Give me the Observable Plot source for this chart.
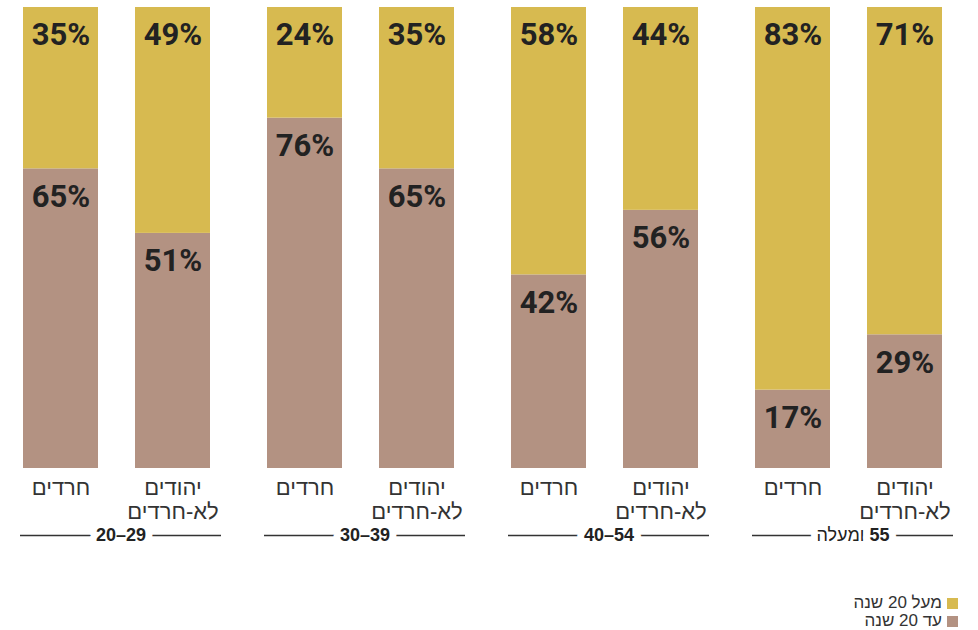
<!DOCTYPE html>
<html>
<head>
<meta charset="utf-8">
<script src="https://cdn.jsdelivr.net/npm/d3@7"></script>
<script src="https://cdn.jsdelivr.net/npm/@observablehq/plot@0.6"></script>
<style>
  body { margin: 0; background: #fff; font-family: "Liberation Sans", "DejaVu Sans", sans-serif; }
  #legend { display: flex; flex-direction: column; align-items: flex-end; padding: 14px 20px 0 0; }
  .row { display: flex; flex-direction: row-reverse; align-items: center; gap: 5px; height: 18px; font-size: 17px; color: #333; }
  .sw { width: 11px; height: 11px; }
</style>
</head>
<body>
<div id="chart"></div>
<div id="legend"></div>
<script>
const groups = ["20–29", "30–39", "40–54", "55 ומעלה"];
const sectors = ["חרדים", "יהודים\nלא-חרדים"];
const series = ["עד 20 שנה", "מעל 20 שנה"];
const upTo20 = [65, 51, 76, 65, 42, 56, 17, 29];
const over20 = [35, 49, 24, 35, 58, 44, 83, 71];
const colors = ["#B39282", "#D7BA50"];

const cells = [];
const data = [];
groups.forEach((g, i) => {
  sectors.forEach((s, j) => {
    const k = i * 2 + j;
    cells.push({group: g, sector: s});
    data.push({group: g, sector: s, series: series[0], value: upTo20[k]});
    data.push({group: g, sector: s, series: series[1], value: over20[k]});
  });
});

const chart = Plot.plot({
  width: 978,
  height: 580,
  marginLeft: 22,
  marginRight: 33,
  marginTop: 7,
  marginBottom: 112,
  style: {fontFamily: "Liberation Sans, DejaVu Sans, sans-serif", background: "#fff"},
  fx: {domain: groups, paddingInner: 0.2275, paddingOuter: 0, axis: null},
  x: {domain: sectors, paddingInner: 0.3274, paddingOuter: 0, axis: null},
  y: {domain: [0, 100], axis: null},
  color: {domain: series, range: colors},
  marks: [
    Plot.barY(data, {fx: "group", x: "sector", y: "value", fill: "series"}),
    Plot.text(data, Plot.stackY2({
      fx: "group", x: "sector", y: "value",
      text: d => `${d.value}%`,
      dy: 28, fontSize: 31, fontWeight: "bold",
      fontFamily: "Roboto, Liberation Sans, sans-serif",
      fill: "#222"
    })),
    Plot.text(cells, {
      fx: "group", x: "sector", frameAnchor: "bottom", text: "sector",
      dy: 9, lineAnchor: "top", fontSize: 22, lineHeight: 1.09, fill: "#333"
    }),
    Plot.ruleY(groups, {fx: d => d, y: 0, dy: 67, insetLeft: -3, insetRight: -10, stroke: "#333", strokeWidth: 1.5}),
    Plot.text(groups, {
      fx: d => d, frameAnchor: "bottom", text: d => d,
      dy: 72, dx: 3.5, fontSize: 18, fontWeight: "bold", fill: "#222",
      stroke: "white", strokeWidth: 14
    })
  ]
});

// Right-to-left label: number bold, Hebrew word regular, reading order RTL
chart.querySelectorAll("text").forEach(t => {
  if (t.textContent === groups[3]) {
    const [num, word] = groups[3].split(" ");
    t.textContent = "";
    t.setAttribute("direction", "rtl");
    t.style.direction = "rtl";
    t.style.unicodeBidi = "embed";
    const a = document.createElementNS("http://www.w3.org/2000/svg", "tspan");
    a.textContent = num + " ";
    a.setAttribute("font-weight", "bold");
    const b = document.createElementNS("http://www.w3.org/2000/svg", "tspan");
    b.textContent = word;
    b.setAttribute("font-weight", "normal");
    t.appendChild(a);
    t.appendChild(b);
  }
});

document.getElementById("chart").appendChild(chart);

const legend = document.getElementById("legend");
[1, 0].forEach(i => {
  const row = document.createElement("div");
  row.className = "row";
  const sw = document.createElement("span");
  sw.className = "sw";
  sw.style.background = colors[i];
  const label = document.createElement("span");
  label.textContent = series[i];
  label.dir = "rtl";
  row.appendChild(sw);
  row.appendChild(label);
  legend.appendChild(row);
});
</script>
</body>
</html>
